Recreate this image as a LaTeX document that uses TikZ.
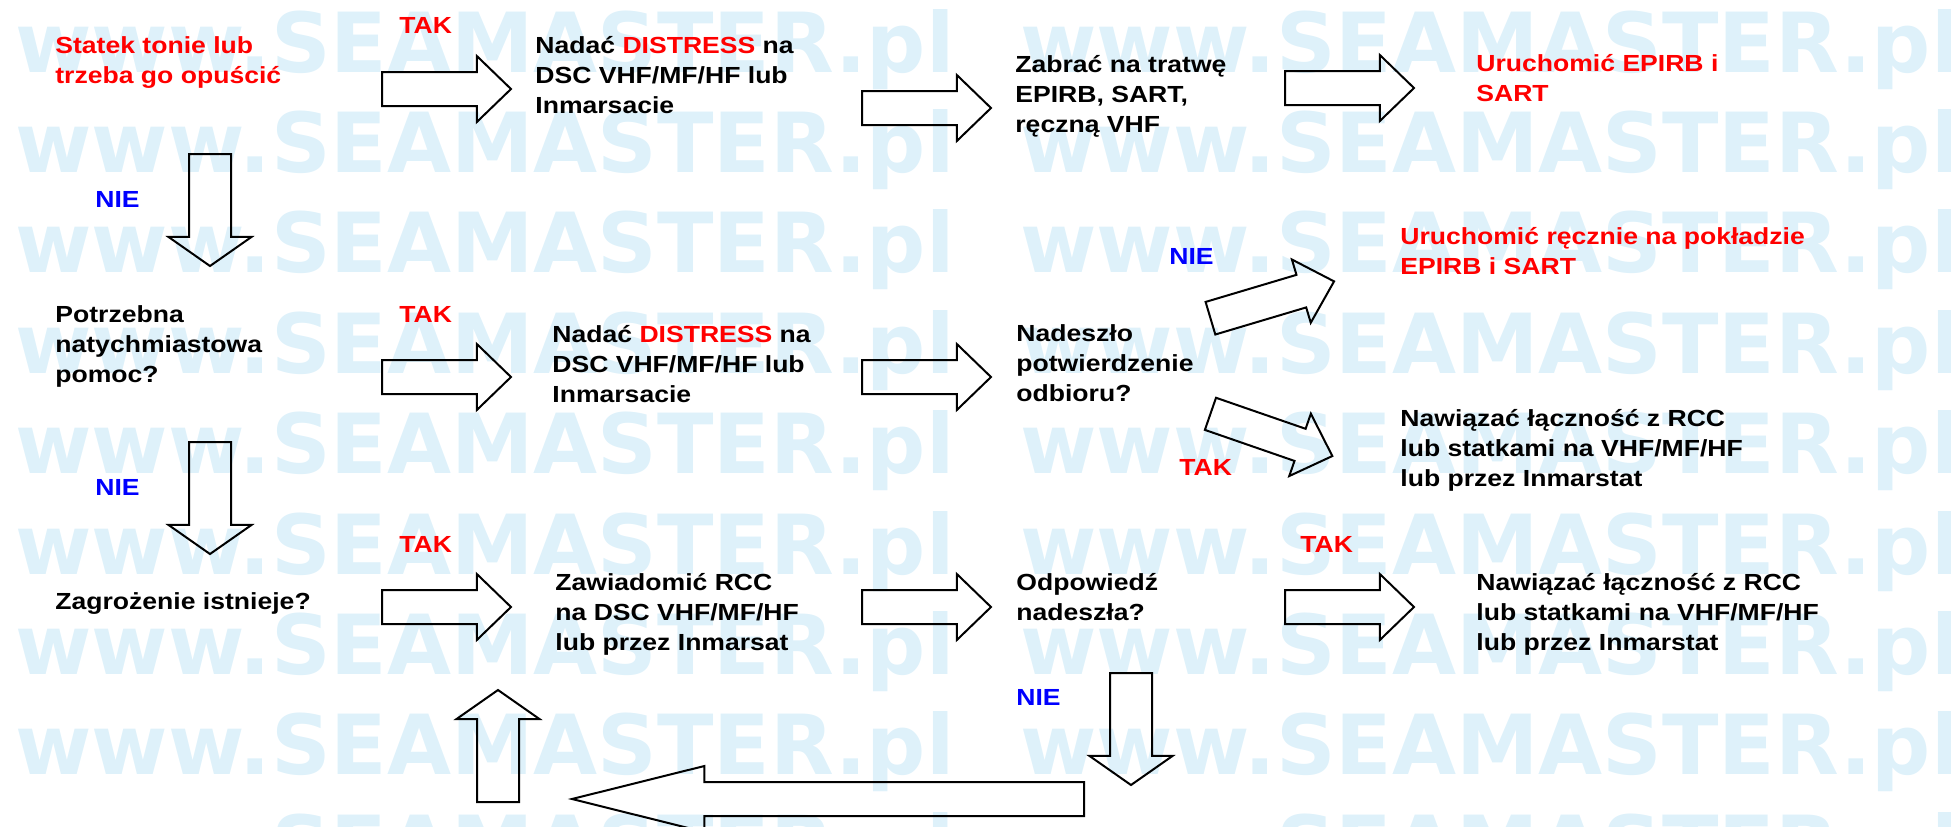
\documentclass[tikz,border=0pt]{standalone}
\usepackage{fontspec}
\setmainfont{Liberation Sans}[FakeStretch=1.14]
\newfontfamily\wmfont{DejaVu Sans}
\usetikzlibrary{shapes.arrows}

\definecolor{wmblue}{RGB}{222,241,250}
\newcommand{\txtlines}[1]{\begin{tabular}[t]{@{}l@{}}#1\end{tabular}}

\begin{document}
\begin{tikzpicture}[x=0.5pt,y=-0.5pt,
    wm/.style={anchor=base west,inner sep=0pt,text=wmblue},
    txt/.style={anchor=base west,inner sep=0pt,
      font=\fontsize{11.65pt}{15pt}\selectfont\bfseries},
    yes/.style={txt,text=red},
    no/.style={txt,text=blue},
    blk/.style={single arrow,draw,line width=1pt,anchor=tail,inner xsep=0pt,
      single arrow head indent=0pt},
    harrow/.style={blk,inner ysep=8pt,minimum height=64.5pt,minimum width=32pt,
      single arrow head extend=8pt,single arrow tip angle=88},
    varrow/.style={blk,inner ysep=10pt,minimum height=56pt,minimum width=40.5pt,
      single arrow head extend=10.25pt,single arrow tip angle=110}]
    \useasboundingbox (0,0) rectangle (1951,826);
    \clip (0,0) rectangle (1951,826);

    % watermark
    \foreach \r in {0,...,8}
      \foreach \c in {0,1}
        \node[wm] at (15+1005*\c,72+100.4*\r)
          {\resizebox{469.5pt}{31.5pt}{\wmfont\bfseries www.SEAMASTER.pl}};

    % first row
    \node[yes] (s0) at (55,53) {\txtlines{Statek tonie lub\\trzeba go opuścić}};
    \node[yes] (tak1) at (399,33) {TAK};
    \node[txt] (n1) at (535,53)
      {\txtlines{Nadać \textcolor{red}{DISTRESS} na\\DSC VHF/MF/HF lub\\Inmarsacie}};
    \node[txt] (z1) at (1015,72) {\txtlines{Zabrać na tratwę\\EPIRB, SART,\\ręczną VHF}};
    \node[yes] (u1) at (1476,71) {\txtlines{Uruchomić EPIRB i\\SART}};
    \node[harrow] (a1) at (381,89) {};
    \node[harrow] (a2) at (861,108) {};
    \node[harrow] (a3) at (1284,88) {};
    \node[no] (nie1) at (95,207) {NIE};
    \node[varrow,rotate=-90] (d1) at (210,153) {};

    % second row
    \node[txt] (p2) at (55,322) {\txtlines{Potrzebna\\natychmiastowa\\pomoc?}};
    \node[yes] (tak2) at (399,322) {TAK};
    \node[txt] (n2) at (552,342)
      {\txtlines{Nadać \textcolor{red}{DISTRESS} na\\DSC VHF/MF/HF lub\\Inmarsacie}};
    \node[txt] (q2) at (1016,341) {\txtlines{Nadeszło\\potwierdzenie\\odbioru?}};
    \node[no] (nie2) at (1169,264) {NIE};
    \node[yes] (u2) at (1400,244) {\txtlines{Uruchomić ręcznie na pokładzie\\EPIRB i SART}};
    \node[yes] (tak3) at (1179,475) {TAK};
    \node[txt] (r2) at (1400,426)
      {\txtlines{Nawiązać łączność z RCC\\lub statkami na VHF/MF/HF\\lub przez Inmarstat}};
    \node[harrow] (b1) at (381,377) {};
    \node[harrow] (b2) at (861,377) {};
    \node[harrow,rotate=16.6] (c1) at (1209.5,318.5) {};
    \node[harrow,rotate=-19.1] (c2) at (1209.5,413.5) {};
    \node[no] (nie3) at (95,495) {NIE};
    \node[varrow,rotate=-90] (d2) at (210,441) {};

    % third row
    \node[txt] (z3) at (55,609) {Zagrożenie istnieje?};
    \node[yes] (tak4) at (399,552) {TAK};
    \node[txt] (w3) at (555,590)
      {\txtlines{Zawiadomić RCC\\na DSC VHF/MF/HF\\lub przez Inmarsat}};
    \node[txt] (o3) at (1016,590) {\txtlines{Odpowiedź\\nadeszła?}};
    \node[yes] (tak5) at (1300,552) {TAK};
    \node[txt] (r3) at (1476,590)
      {\txtlines{Nawiązać łączność z RCC\\lub statkami na VHF/MF/HF\\lub przez Inmarstat}};
    \node[harrow] (e1) at (381,607) {};
    \node[harrow] (e2) at (861,607) {};
    \node[harrow] (e3) at (1284,607) {};
    \node[no] (nie4) at (1016,705) {NIE};
    \node[varrow,rotate=-90] (d3) at (1131,672) {};

    % way back
    \node[blk,rotate=180,inner ysep=8pt,minimum height=256pt,minimum width=32pt,
      single arrow head extend=8pt,single arrow tip angle=28] (back) at (1085,799) {};
    \node[varrow,rotate=90] (up) at (498,803) {};
  \end{tikzpicture}
\end{document}
